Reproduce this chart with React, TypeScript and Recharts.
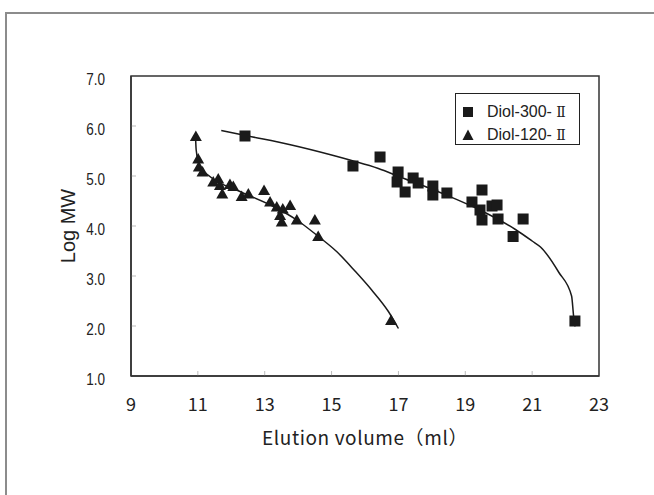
import {
  ComposedChart, Scatter, Line, XAxis, YAxis, Legend, ReferenceArea, ReferenceLine, Label,
} from "recharts";

// Messpunkte: Elutionsvolumen (ml) gegen Log MW
const diol300 = [
  { x: 12.41, y: 5.8 }, { x: 15.64, y: 5.2 }, { x: 16.45, y: 5.38 }, { x: 16.99, y: 5.08 },
  { x: 16.96, y: 4.88 }, { x: 17.44, y: 4.96 }, { x: 17.59, y: 4.86 }, { x: 17.2, y: 4.68 },
  { x: 18.03, y: 4.8 }, { x: 18.03, y: 4.62 }, { x: 18.45, y: 4.66 }, { x: 19.5, y: 4.72 },
  { x: 19.2, y: 4.48 }, { x: 19.44, y: 4.32 }, { x: 19.5, y: 4.12 }, { x: 19.8, y: 4.4 },
  { x: 19.95, y: 4.42 }, { x: 19.98, y: 4.14 }, { x: 20.73, y: 4.14 }, { x: 20.43, y: 3.79 },
  { x: 22.28, y: 2.1 },
];

const diol120 = [
  { x: 10.94, y: 5.8 }, { x: 11.01, y: 5.35 }, { x: 11.03, y: 5.19 }, { x: 11.14, y: 5.09 },
  { x: 11.46, y: 4.89 }, { x: 11.61, y: 4.95 }, { x: 11.66, y: 4.82 }, { x: 11.73, y: 4.65 },
  { x: 11.96, y: 4.84 }, { x: 12.06, y: 4.8 }, { x: 12.31, y: 4.6 }, { x: 12.51, y: 4.65 },
  { x: 12.98, y: 4.72 }, { x: 13.16, y: 4.49 }, { x: 13.36, y: 4.39 }, { x: 13.46, y: 4.22 },
  { x: 13.54, y: 4.35 }, { x: 13.51, y: 4.09 }, { x: 13.76, y: 4.42 }, { x: 13.96, y: 4.13 },
  { x: 14.5, y: 4.13 }, { x: 14.6, y: 3.8 }, { x: 16.78, y: 2.12 },
];

// Kalibrierkurven
const fit300 = [
  { x: 11.7, y: 5.91 }, { x: 12.5, y: 5.8 }, { x: 13.8, y: 5.62 }, { x: 15.0, y: 5.42 },
  { x: 15.6, y: 5.31 }, { x: 16.4, y: 5.15 }, { x: 17.05, y: 4.98 }, { x: 17.8, y: 4.79 },
  { x: 18.5, y: 4.6 }, { x: 19.5, y: 4.3 }, { x: 20.5, y: 3.93 }, { x: 21.0, y: 3.7 },
  { x: 21.25, y: 3.58 }, { x: 21.8, y: 3.07 }, { x: 22.18, y: 2.6 }, { x: 22.24, y: 2.2 },
  { x: 22.28, y: 1.99 },
];

const fit120 = [
  { x: 10.93, y: 5.8 }, { x: 10.95, y: 5.52 }, { x: 11.06, y: 5.19 }, { x: 11.36, y: 4.99 },
  { x: 12.26, y: 4.69 }, { x: 13.26, y: 4.39 }, { x: 13.96, y: 4.12 }, { x: 14.55, y: 3.82 },
  { x: 15.15, y: 3.49 }, { x: 15.7, y: 3.1 }, { x: 16.2, y: 2.72 }, { x: 16.7, y: 2.29 },
  { x: 17.0, y: 1.95 },
];

const xTicks = [9, 11, 13, 15, 17, 19, 21, 23];
const yTicks = [1, 2, 3, 4, 5, 6, 7];

const INK = "#1a1a1a";
const GOTHIC = "'Noto Sans CJK JP', sans-serif";
const SANS = "'Liberation Sans', Arial, sans-serif";

const SquareDot = (p: any) => (
  <rect x={p.cx - 5.5} y={p.cy - 5.5} width={11} height={11} fill={INK} />
);

const TriangleDot = (p: any) => (
  <polygon
    points={`${p.cx},${p.cy - 5.5} ${p.cx + 6},${p.cy + 5} ${p.cx - 6},${p.cy + 5}`}
    fill={INK}
  />
);

const XTick = ({ x, y, payload }: any) => (
  <text x={x} y={y + 35} textAnchor="middle" fill="#222" fontSize={18} fontFamily={GOTHIC}>
    {payload.value}
  </text>
);

const YTick = ({ x, y, payload }: any) => (
  <g transform={`translate(${x - 26},${y + 9})`}>
    <text transform="scale(0.82,1)" textAnchor="end" fill="#222" fontSize={16.5} fontFamily={SANS}>
      {Number(payload.value).toFixed(1)}
    </text>
  </g>
);

function LegendBox() {
  const row = (icon: React.ReactNode, name: string) => (
    <div style={{ display: "flex", alignItems: "center", height: 23 }}>
      <svg width={12} height={12} style={{ marginRight: 13 }}>{icon}</svg>
      <span style={{ fontFamily: SANS, fontSize: 16, color: "#222", whiteSpace: "nowrap" }}>
        {name}
        <span style={{ fontFamily: "'DejaVu Serif', serif", fontSize: 14 }}>Ⅱ</span>
      </span>
    </div>
  );
  return (
    <div
      style={{
        width: 125, height: 52, boxSizing: "border-box", border: "1.5px solid #222",
        background: "#fff", padding: "6px 0 0 6px",
      }}
    >
      {row(<rect x={1} y={1} width={10} height={10} fill={INK} />, "Diol-300- ")}
      {row(<polygon points="6,0.5 11.5,11 0.5,11" fill={INK} />, "Diol-120- ")}
    </div>
  );
}

export default function App() {
  return (
    <div style={{ position: "absolute", left: 0, top: 0, width: 654, height: 495, background: "#fff" }}>
      <div
        style={{
          position: "absolute", left: 5, top: 12, right: 0, bottom: 0,
          borderTop: "2px solid #8c8c8c", borderLeft: "2px solid #8c8c8c",
        }}
      />
      <ComposedChart
        width={654}
        height={495}
        margin={{ top: 76, right: 55, bottom: 89, left: 71 }}
        style={{ position: "absolute", left: 0, top: 0 }}
      >
        <XAxis
          type="number"
          dataKey="x"
          domain={[9, 23]}
          ticks={xTicks}
          allowDataOverflow
          height={30}
          tickSize={0}
          tickMargin={0}
          tickLine={false}
          axisLine={{ stroke: "#333", strokeWidth: 1.5 }}
          tick={XTick}
        >
          <Label
            content={({ viewBox }: any) => (
              <text
                x={viewBox.x + viewBox.width / 2}
                y={viewBox.y + 69}
                textAnchor="middle"
                fill="#222"
                fontSize={19}
                letterSpacing={0.6}
                fontFamily={GOTHIC}
              >
                Elution volume（ml）
              </text>
            )}
          />
        </XAxis>
        <YAxis
          type="number"
          dataKey="y"
          domain={[1, 7]}
          ticks={yTicks}
          allowDataOverflow
          width={60}
          tickSize={0}
          tickMargin={0}
          tickLine={false}
          axisLine={{ stroke: "#333", strokeWidth: 1.5 }}
          tick={YTick}
        >
          <Label
            content={({ viewBox }: any) => (
              <text
                transform={`translate(${viewBox.x + 4},${viewBox.y + viewBox.height / 2}) rotate(-90)`}
                textAnchor="middle"
                fill="#222"
                fontSize={20}
                fontFamily={SANS}
              >
                Log MW
              </text>
            )}
          />
        </YAxis>
        <ReferenceArea x1={9} x2={23} y1={1} y2={7} fill="none" stroke="#333" strokeWidth={1.5} />
        {xTicks.slice(1, -1).map((t) => (
          <ReferenceLine key={"xt" + t} segment={[{ x: t, y: 1 }, { x: t, y: 1.1 }]} stroke="#bbb" />
        ))}
        {yTicks.slice(1, -1).map((t) => (
          <ReferenceLine key={"yt" + t} segment={[{ x: 9, y: t }, { x: 9.15, y: t }]} stroke="#bbb" />
        ))}
        <Line
          data={fit300}
          dataKey="y"
          type="monotone"
          stroke={INK}
          strokeWidth={1.5}
          dot={false}
          legendType="none"
          isAnimationActive={false}
        />
        <Line
          data={fit120}
          dataKey="y"
          type="monotone"
          stroke={INK}
          strokeWidth={1.5}
          dot={false}
          legendType="none"
          isAnimationActive={false}
        />
        <Scatter name="Diol-300- Ⅱ" data={diol300} shape={SquareDot} isAnimationActive={false} />
        <Scatter name="Diol-120- Ⅱ" data={diol120} shape={TriangleDot} isAnimationActive={false} />
        <Legend
          layout="vertical"
          verticalAlign="middle"
          align="center"
          content={() => <LegendBox />}
          wrapperStyle={{ left: 455, top: 93, width: 125, height: 52 }}
        />
      </ComposedChart>
    </div>
  );
}
